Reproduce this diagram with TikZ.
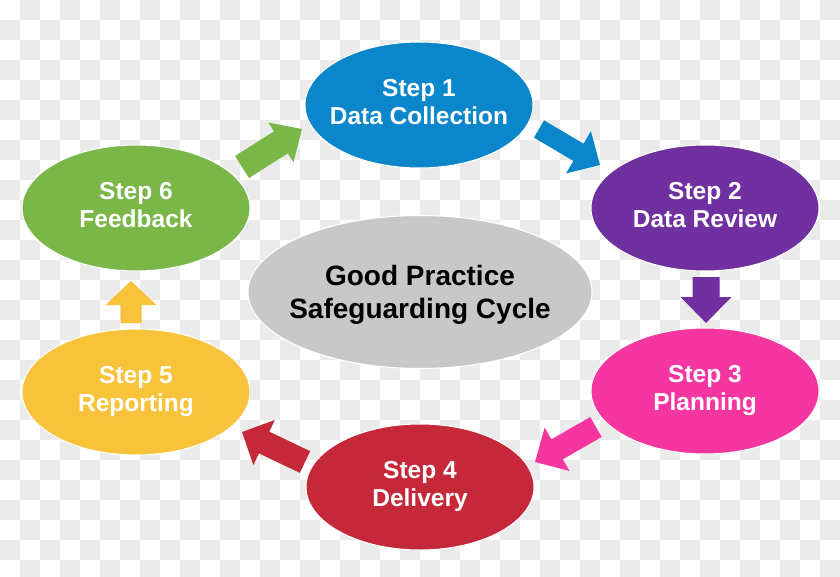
\documentclass[tikz,border=0pt]{standalone}
\usepackage{fontspec}
\setmainfont{Liberation Sans}
\usetikzlibrary{shapes.geometric,calc}
\definecolor{cblue}{RGB}{10,135,202}
\definecolor{cpurple}{RGB}{112,48,160}
\definecolor{cpink}{RGB}{246,54,160}
\definecolor{cred}{RGB}{197,41,57}
\definecolor{cyellow}{RGB}{248,194,58}
\definecolor{cgreen}{RGB}{122,182,72}
\definecolor{cgray}{RGB}{200,200,200}
\definecolor{checker}{RGB}{235,235,235}
% block arrow: colour, tail, tip, half shaft width, half head width, head length
\newcommand\blockarrow[6]{%
  \coordinate (hb) at ($(#3)!#6!(#2)$);
  \fill[#1] ($(#2)!#4!90:(#3)$) -- ($(hb)!#4!90:(#3)$) -- ($(hb)!#5!90:(#3)$)
    -- (#3) -- ($(hb)!#5!-90:(#3)$) -- ($(hb)!#4!-90:(#3)$) -- ($(#2)!#4!-90:(#3)$) -- cycle;
}
\begin{document}
\begin{tikzpicture}[x=1pt,y=-1pt,
  stepnode/.style={ellipse, minimum width=228pt, minimum height=126pt, inner sep=0pt,
    draw=white, line width=1pt},
  steptext/.style={text=white, align=center, inner sep=0pt,
    font=\bfseries\fontsize{24.5}{28}\selectfont},
  hubnode/.style={ellipse, minimum width=344pt, minimum height=153pt, inner sep=0pt,
    fill=cgray, draw=white, line width=1pt},
  hubtext/.style={text=black, align=center, inner sep=0pt, yshift=-3pt,
    font=\bfseries\fontsize{28}{33}\selectfont}]
\useasboundingbox (0,0) rectangle (840,577);
\fill[white] (0,0) rectangle (840,577);
\begin{scope}
\clip (0,0) rectangle (840,577);
\foreach \j in {0,...,28}{
  \foreach \i in {0,...,20}{
    \pgfmathtruncatemacro\xx{40*\i+20*(1-mod(\j,2))}
    \fill[checker] (\xx,20*\j) rectangle ++(20,20);
  }
}
\end{scope}
% arrow end points
\coordinate (a1t) at (539,129); \coordinate (a1h) at (600,165);
\coordinate (a2t) at (706,277); \coordinate (a2h) at (706,323);
\coordinate (a3t) at (596,427); \coordinate (a3h) at (535,462);
\coordinate (a4t) at (305,462); \coordinate (a4h) at (242,432);
\coordinate (a5t) at (131,323); \coordinate (a5h) at (131,281);
\coordinate (a6t) at (242,167); \coordinate (a6h) at (302,129);
\blockarrow{cblue}{a1t}{a1h}{10pt}{24.5pt}{25pt}
\blockarrow{cpurple}{a2t}{a2h}{13.5pt}{25.5pt}{26pt}
\blockarrow{cpink}{a3t}{a3h}{11.5pt}{25pt}{25.5pt}
\blockarrow{cred}{a4t}{a4h}{12pt}{25pt}{24.5pt}
\blockarrow{cyellow}{a5t}{a5h}{10.5pt}{25.5pt}{24pt}
\blockarrow{cgreen}{a6t}{a6h}{13pt}{23.5pt}{25pt}
% nodes
\node[hubnode, label={[hubtext]center:{\strut Good Practice\\\strut Safeguarding Cycle}}] (hub) at (420,292) {};
\node[stepnode, fill=cblue, label={[steptext]center:{\strut Step 1\\\strut Data Collection}}] (s1) at (419,105) {};
\node[stepnode, fill=cpurple, label={[steptext]center:{\strut Step 2\\\strut Data Review}}] (s2) at (705,208) {};
\node[stepnode, fill=cpink, label={[steptext]center:{\strut Step 3\\\strut Planning}}] (s3) at (705,391) {};
\node[stepnode, fill=cred, label={[steptext]center:{\strut Step 4\\\strut Delivery}}] (s4) at (420,487) {};
\node[stepnode, fill=cyellow, label={[steptext]center:{\strut Step 5\\\strut Reporting}}] (s5) at (136,392) {};
\node[stepnode, fill=cgreen, label={[steptext]center:{\strut Step 6\\\strut Feedback}}] (s6) at (136,208) {};
\end{tikzpicture}
\end{document}
